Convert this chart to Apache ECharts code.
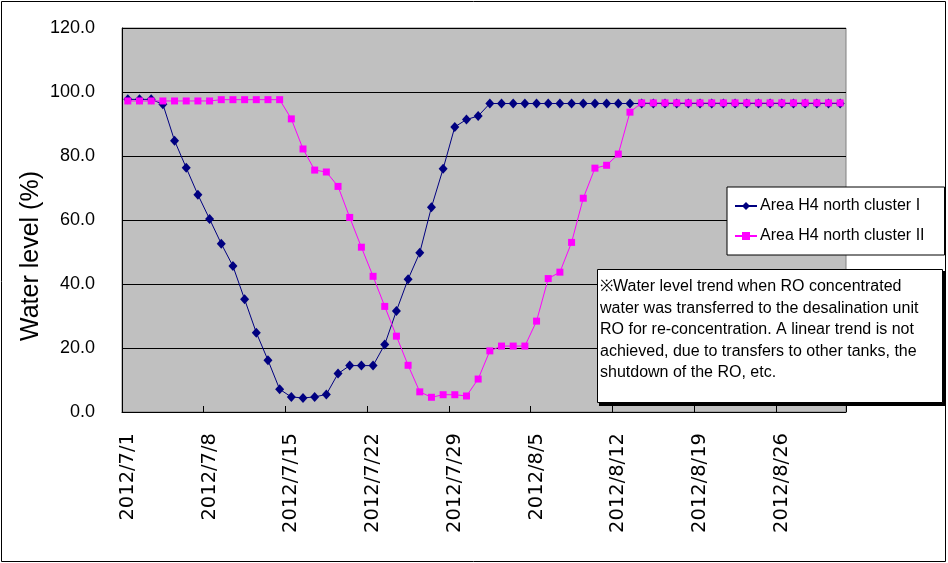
<!DOCTYPE html>
<html>
<head>
<meta charset="utf-8">
<script src="https://cdn.jsdelivr.net/npm/echarts@6/dist/echarts.min.js"></script>
<style>
html,body{margin:0;padding:0;background:#fff;}
#chart{width:948px;height:563px;}
</style>
</head>
<body>
<div id="chart"></div>
<script>
const categories = [
  '2012/7/1','2012/7/2','2012/7/3','2012/7/4','2012/7/5','2012/7/6','2012/7/7','2012/7/8','2012/7/9','2012/7/10',
  '2012/7/11','2012/7/12','2012/7/13','2012/7/14','2012/7/15','2012/7/16','2012/7/17','2012/7/18','2012/7/19','2012/7/20',
  '2012/7/21','2012/7/22','2012/7/23','2012/7/24','2012/7/25','2012/7/26','2012/7/27','2012/7/28','2012/7/29','2012/7/30',
  '2012/7/31','2012/8/1','2012/8/2','2012/8/3','2012/8/4','2012/8/5','2012/8/6','2012/8/7','2012/8/8','2012/8/9',
  '2012/8/10','2012/8/11','2012/8/12','2012/8/13','2012/8/14','2012/8/15','2012/8/16','2012/8/17','2012/8/18','2012/8/19',
  '2012/8/20','2012/8/21','2012/8/22','2012/8/23','2012/8/24','2012/8/25','2012/8/26','2012/8/27','2012/8/28','2012/8/29',
  '2012/8/30','2012/8/31'
];
const clusterI = [
  97.7, 97.7, 97.7, 96.2, 84.8, 76.3, 67.9, 60.3, 52.6, 45.6,
  35.2, 24.8, 16.2, 7.1, 4.7, 4.4, 4.7, 5.5, 12.0, 14.5,
  14.5, 14.5, 21.1, 31.6, 41.5, 49.8, 64.0, 76.0, 89.1, 91.4,
  92.5, 96.4, 96.4, 96.4, 96.4, 96.4, 96.4, 96.4, 96.4, 96.4,
  96.4, 96.4, 96.4, 96.4, 96.4, 96.4, 96.4, 96.4, 96.4, 96.4,
  96.4, 96.4, 96.4, 96.4, 96.4, 96.4, 96.4, 96.4, 96.4, 96.4,
  96.4, 96.4
];
const clusterII = [
  97.2, 97.2, 97.2, 97.2, 97.2, 97.2, 97.2, 97.2, 97.6, 97.6,
  97.6, 97.6, 97.6, 97.6, 91.6, 82.2, 75.6, 75.0, 70.5, 60.8,
  51.5, 42.4, 33.0, 23.7, 14.6, 6.3, 4.6, 5.4, 5.4, 5.0,
  10.3, 19.1, 20.6, 20.6, 20.6, 28.4, 41.7, 43.7, 53.0, 66.8,
  76.2, 77.1, 80.6, 93.7, 96.6, 96.6, 96.6, 96.6, 96.6, 96.6,
  96.6, 96.6, 96.6, 96.6, 96.6, 96.6, 96.6, 96.6, 96.6, 96.6,
  96.6, 96.6
];
const seriesNames = ['Area H4 north cluster I', 'Area H4 north cluster II'];
const yTitle = 'Water level (%)';
const noteText = '※Water level trend when RO concentrated\nwater was transferred to the desalination unit\nRO for re-concentration. A linear trend is not\nachieved, due to transfers to other tanks, the\nshutdown of the RO, etc.';

const FONT = '"Liberation Sans", Arial, sans-serif';
const chart = echarts.init(document.getElementById('chart'), null, {renderer: 'canvas'});
chart.setOption({
  animation: false,
  backgroundColor: '#ffffff',
  textStyle: {fontFamily: FONT, color: '#000'},
  grid: {
    left: 122, right: 102, top: 28, bottom: 151,
    show: true, backgroundColor: '#C0C0C0', borderColor: '#808080', borderWidth: 1,
    containLabel: false
  },
  legend: {
    orient: 'vertical',
    left: 727, top: 187,
    backgroundColor: '#ffffff',
    borderColor: '#000',
    borderWidth: 1,
    padding: [11, 20, 11, 7],
    itemGap: 14,
    itemWidth: 22,
    itemHeight: 10,
    textStyle: {fontFamily: FONT, fontSize: 16, color: '#000', padding: [0, 0, 0, -2]},
    data: seriesNames
  },
  xAxis: {
    type: 'category',
    data: categories,
    boundaryGap: true,
    axisLine: {lineStyle: {color: '#000', width: 1}},
    axisTick: {show: true, inside: true, length: 6, interval: 6, lineStyle: {color: '#000'}},
    axisLabel: {
      interval: 6, rotate: 90, margin: 21,
      fontFamily: '"DejaVu Sans", sans-serif', fontSize: 19.5, color: '#000'
    },
    splitLine: {show: false}
  },
  yAxis: {
    type: 'value',
    min: 0, max: 120, interval: 20,
    axisLine: {show: true, lineStyle: {color: '#000', width: 1}},
    axisTick: {show: true, inside: true, length: 6, lineStyle: {color: '#000'}},
    axisLabel: {
      margin: 27, fontFamily: FONT, fontSize: 18, color: '#000',
      formatter: v => v.toFixed(1)
    },
    splitLine: {show: true, lineStyle: {color: '#000', width: 1}}
  },
  series: [
    {
      name: seriesNames[0],
      type: 'line',
      data: clusterI,
      symbol: 'diamond',
      symbolSize: [9, 10],
      showAllSymbol: true,
      itemStyle: {color: '#000080'},
      lineStyle: {color: '#000080', width: 1},
      z: 3
    },
    {
      name: seriesNames[1],
      type: 'line',
      data: clusterII,
      symbol: 'rect',
      symbolSize: 7,
      showAllSymbol: true,
      itemStyle: {color: '#FF00FF'},
      lineStyle: {color: '#FF00FF', width: 1},
      z: 4
    }
  ],
  graphic: [
    {
      type: 'rect', z: 0, silent: true,
      shape: {x: 1.5, y: 1.5, width: 944, height: 560},
      style: {fill: 'none', stroke: '#000', lineWidth: 1}
    },
    {
      type: 'text', z: 10, silent: true,
      x: 31, y: 256, rotation: Math.PI / 2,
      style: {
        text: yTitle,
        font: '25px ' + FONT,
        fill: '#000',
        align: 'center',
        verticalAlign: 'middle'
      }
    },
    {
      type: 'rect', z: 100, silent: true,
      shape: {x: 599, y: 271, width: 347, height: 135},
      style: {fill: '#000'}
    },
    {
      type: 'rect', z: 101, silent: true,
      shape: {x: 597.5, y: 269.5, width: 345, height: 133},
      style: {fill: '#fff', stroke: '#000', lineWidth: 1}
    },
    {
      type: 'text', z: 102, silent: true,
      left: 600, top: 276,
      style: {
        text: noteText,
        font: '16px ' + FONT,
        fill: '#000',
        lineHeight: 21.5
      }
    }
  ]
});
</script>
</body>
</html>
